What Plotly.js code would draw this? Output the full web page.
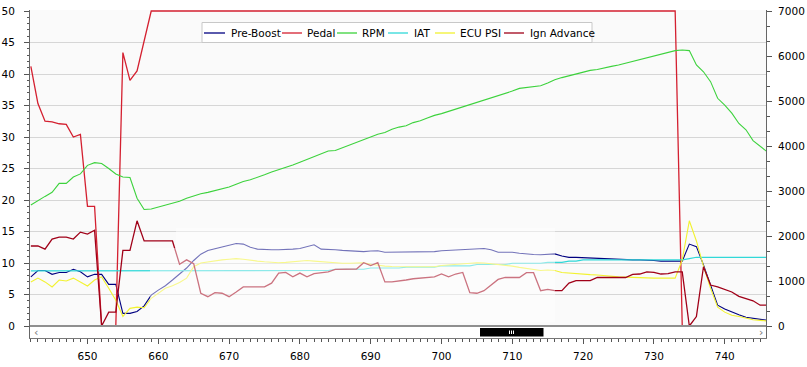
<!DOCTYPE html>
<html><head><meta charset="utf-8">
<script src="https://cdn.plot.ly/plotly-3.0.1.min.js"></script>
<style>html,body{margin:0;padding:0;background:#fff}#chart{width:807px;height:367px}</style>
</head><body><div id="chart"></div>
<script>
// ---- data ----
const frame = [642,643,644,645,646,647,648,649,650,651,652,653,654,655,656,657,658,659,660,661,662,663,664,665,666,667,668,669,670,671,672,673,674,675,676,677,678,679,680,681,682,683,684,685,686,687,688,689,690,691,692,693,694,695,696,697,698,699,700,701,702,703,704,705,706,707,708,709,710,711,712,713,714,715,716,717,718,719,720,721,722,723,724,725,726,727,728,729,730,731,732,733,734,735,736,737,738,739,740,741,742,743,744,745,746];

const preBoost = [7.8,8.8,8.8,8.2,8.5,8.5,9.0,8.6,7.8,8.2,8.2,6.6,6.6,2.0,2.0,2.3,3.2,4.9,5.7,6.4,7.3,8.3,9.2,10.4,11.4,12.0,12.3,12.6,12.9,13.1,13.0,12.5,12.2,12.1,12.1,12.1,12.1,12.2,12.3,12.6,12.9,12.2,12.2,12.1,12.0,11.95,11.8,11.8,11.9,11.95,11.7,11.7,11.7,11.7,11.7,11.7,11.7,11.8,11.95,12.0,12.05,12.1,12.15,12.2,12.3,12.1,11.7,11.7,11.7,11.55,11.4,11.35,11.3,11.4,11.45,11.1,10.9,10.9,10.85,10.7,10.65,10.6,10.6,10.6,10.55,10.5,10.5,10.5,10.4,10.3,10.3,10.3,10.3,13.0,12.6,9.7,6.4,3.3,2.7,2.2,1.8,1.4,1.2,1.0,0.9];

const pedal = [41.2,35.3,32.5,32.4,32.1,32.0,30.0,30.4,19.0,19.0,0,0,0,43.4,39.0,40.5,45.2,
50,50,50,50,50,50,50,50,50,50,50,50,50,50,50,
50,50,50,50,50,50,50,50,50,50,50,50,50,50,50,
50,50,50,50,50,50,50,50,50,50,50,50,50,50,50,
50,50,50,50,50,50,50,50,50,50,50,50,50,50,50,
50,50,50,50,50,50,50,50,50,50,50,50,50,50,50,
0,0,0,0,0,0,0,0,0,0,0,0,0];

const rpm = [2690,2790,2880,2970,3170,3170,3310,3380,3570,3630,3610,3500,3380,3310,3300,2840,2590,2600,2640,2680,2730,2770,2840,2890,2940,2970,3010,3050,3090,3150,3210,3250,3300,3360,3420,3470,3530,3580,3640,3700,3760,3830,3890,3900,3960,4020,4080,4140,4200,4260,4300,4370,4420,4450,4520,4560,4620,4680,4720,4770,4820,4870,4920,4960,5010,5060,5110,5160,5220,5280,5300,5310,5340,5400,5470,5520,5560,5600,5650,5680,5700,5740,5770,5800,5840,5880,5920,5960,6000,6040,6080,6120,6133,6120,5800,5650,5430,5060,4910,4730,4500,4360,4120,3985,3870];

const iat = [8.75,8.75,8.75,8.75,8.75,8.75,8.75,8.75,8.75,8.75,8.75,8.75,8.75,8.75,8.75,8.75,8.75,8.75,8.75,8.75,8.75,8.75,8.75,8.75,8.75,8.75,8.75,8.75,
8.8,8.8,8.8,8.8,8.8,8.8,8.8,8.8,8.8,8.8,8.8,8.8,8.8,8.8,8.8,
9.0,9.0,9.0,9.0,9.0,9.2,9.2,9.2,9.2,9.2,9.35,9.35,9.35,9.35,9.35,9.55,9.55,9.55,9.55,9.55,9.75,9.75,9.75,9.75,9.75,9.95,9.95,9.95,9.95,9.95,10.1,10.1,10.1,10.3,10.3,
10.5,10.5,10.5,10.5,10.5,10.5,10.5,10.5,10.5,10.5,10.5,10.5,10.5,10.5,10.5,10.7,
10.9,10.9,10.9,10.9,10.9,10.9,10.9,10.9,10.9,10.9,10.9];

const ecuPsi = [7.0,7.6,7.0,6.2,7.3,7.15,7.6,7.0,6.35,7.3,7.8,6.0,4.1,1.5,2.8,3.0,2.9,4.4,5.2,6.0,6.4,6.9,7.6,9.4,10.0,10.2,10.4,10.5,10.6,10.7,10.6,10.4,10.3,10.2,10.1,10.05,10.1,10.2,10.3,10.4,10.3,10.2,10.1,10.0,9.95,9.95,10.0,10.05,9.8,9.6,9.5,9.45,9.4,9.4,9.4,9.4,9.4,9.4,9.6,9.7,9.85,9.95,10.0,10.05,10.0,9.9,9.7,9.6,9.5,9.3,9.1,8.9,8.8,8.9,8.8,8.5,8.4,8.25,8.2,8.15,8.1,8.0,7.8,7.8,7.75,7.7,7.6,7.6,7.6,7.6,7.6,7.6,10.5,16.7,13.5,9.5,6.0,3.0,2.2,1.7,1.5,1.2,1.0,0.9,0.8];

const ignAdvance = [12.7,12.7,12.2,13.8,14.1,14.1,13.8,14.9,14.6,15.2,0,2.2,2.2,12.0,12.0,16.7,13.5,13.5,13.5,13.5,13.5,9.8,10.5,9.9,5.2,4.65,5.3,5.2,4.65,5.4,6.2,6.2,6.2,6.2,6.8,8.4,8.5,7.8,8.4,7.8,8.3,8.5,8.6,9.0,9.05,9.05,9.05,10.05,9.6,10.05,7.0,7.0,7.1,7.3,7.5,7.6,7.8,7.8,8.25,7.8,8.25,8.5,5.3,5.2,5.6,6.5,7.4,7.7,7.7,7.7,8.46,8.46,5.6,5.8,5.6,5.6,6.8,7.2,7.2,7.2,7.7,7.7,7.7,7.7,7.7,8.2,8.25,8.6,8.5,8.25,8.3,8.6,8.6,0,1.5,9.4,6.5,6.2,5.8,5.4,4.7,4.4,4.0,3.3,3.3];

const seriesNames = ['Pre-Boost','Pedal','RPM','IAT','ECU PSI','Ign Advance'];
const seriesColors = ['#000080','#d42030','#3cd23c','#30d8d8','#f2f230','#a00018'];
const leftTicks = [0,5,10,15,20,25,30,35,40,45,50];
const rightTicks = [0,1000,2000,3000,4000,5000,6000,7000];
const xTicks = [650,660,670,680,690,700,710,720,730,740];

// ---- layout geometry ----
const W=807,H=367,L=30,R=41,T=10,B=29;
const pw=W-L-R, ph=H-T-B;
const px2x = p => (p-L)/pw;
const py2y = p => (H-B-p)/ph;

const yMinor=[]; for(let v=1; v<50; v++) if(v%5) yMinor.push(v);
const y2Minor=[]; for(let k=1; k<21; k++) if(k%3) y2Minor.push(k*1000/3);

const font = {family:'DejaVu Sans', size:10.5, color:'#000'};
const dataY = [preBoost, pedal, rpm, iat, ecuPsi, ignAdvance];
const traces = dataY.map((ys,i)=>({
  type:'scatter', mode:'lines', x:frame, y:ys, name:seriesNames[i],
  yaxis: i===2 ? 'y2' : 'y', showlegend:false,
  line:{color:seriesColors[i], width:(i===1||i===5)?1.3:1.1}
}));

const shapes = [];
const annotations = [];
// faint watermark-like fade in the lower middle of the plot
shapes.push({type:'rect', xref:'paper', yref:'paper', x0:px2x(150), x1:px2x(176), y0:py2y(322), y1:py2y(248),
  line:{width:0}, fillcolor:'rgba(255,255,255,0.45)', layer:'above'});
shapes.push({type:'rect', xref:'paper', yref:'paper', x0:px2x(176), x1:px2x(555), y0:py2y(322), y1:py2y(228),
  line:{width:0}, fillcolor:'rgba(255,255,255,0.45)', layer:'above'});
// zero line drawn over the series, as in the source chart
shapes.push({type:'line', xref:'paper', yref:'y', x0:0, x1:1, y0:0, y1:0,
  line:{color:'#8f8f8f', width:2}, layer:'above'});

// manual legend (pixel layout)
const legendItems = [
  {l0:204, l1:225, tx:229},
  {l0:282, l1:302, tx:305},
  {l0:337, l1:357, tx:360},
  {l0:388, l1:408, tx:412},
  {l0:435, l1:455, tx:458},
  {l0:504, l1:524, tx:528}
];
shapes.push({type:'rect', xref:'paper', yref:'paper', x0:px2x(202), x1:px2x(592), y0:py2y(42.5), y1:py2y(22.5),
  line:{color:'#c8c8c8', width:1}, fillcolor:'#ffffff', layer:'above'});
legendItems.forEach((it,i)=>{
  shapes.push({type:'line', xref:'paper', yref:'paper', x0:px2x(it.l0), x1:px2x(it.l1), y0:py2y(33), y1:py2y(33),
    line:{color:seriesColors[i], width:1.3}, layer:'above'});
  annotations.push({xref:'paper', yref:'paper', x:px2x(it.tx), y:py2y(33), xanchor:'left', yanchor:'middle',
    text:seriesNames[i], showarrow:false, font:{family:'DejaVu Sans', size:10.5, color:'#000'}});
});
// scrollbar strip
shapes.push({type:'rect', xref:'paper', yref:'paper', x0:0, x1:1, y0:0, y1:py2y(326.5),
  line:{width:0}, fillcolor:'#ffffff', layer:'below'});
shapes.push({type:'rect', xref:'paper', yref:'paper', x0:px2x(480), x1:px2x(543.5), y0:py2y(336.5), y1:py2y(328),
  line:{width:0}, fillcolor:'#000000', layer:'above'});
[509.5,511.5,513.5].forEach(p=>{
  shapes.push({type:'line', xref:'paper', yref:'paper', x0:px2x(p), x1:px2x(p), y0:py2y(334), y1:py2y(330.5),
    line:{color:'#ffffff', width:1}, layer:'above'});
});
annotations.push({xref:'paper', yref:'paper', x:px2x(36), y:py2y(332), xanchor:'center', yanchor:'middle',
  text:'‹', showarrow:false, font:{family:'DejaVu Sans', size:11, color:'#777'}});
annotations.push({xref:'paper', yref:'paper', x:px2x(761), y:py2y(332), xanchor:'center', yanchor:'middle',
  text:'›', showarrow:false, font:{family:'DejaVu Sans', size:11, color:'#777'}});

const layout = {
  width:W, height:H, margin:{l:L, r:R, t:T, b:B, pad:0},
  paper_bgcolor:'#ffffff', plot_bgcolor:'#fafafa',
  font:font, showlegend:false,
  xaxis:{range:[641.88,745.83], tickvals:xTicks, ticks:'outside', ticklen:5, tickcolor:'#555',
    showline:true, linecolor:'#777', linewidth:1, showgrid:false, zeroline:false,
    tickfont:font, ticklabelstandoff:3,
    minor:{dtick:1, tick0:0, ticks:'outside', ticklen:2.5, tickcolor:'#555', showgrid:false}},
  yaxis:{range:[-1.905,50.159], tickvals:leftTicks, ticks:'outside', ticklen:5, tickcolor:'#555',
    showline:true, linecolor:'#666', linewidth:1, showgrid:true, gridcolor:'#d6d6d6', gridwidth:1,
    zeroline:true, zerolinecolor:'#8a8a8a', zerolinewidth:1, tickfont:font, ticklabelstandoff:7,
    minor:{tickvals:yMinor, ticks:'outside', ticklen:2.5, tickcolor:'#555', showgrid:false}},
  yaxis2:{range:[-266.7,7022.2], overlaying:'y', side:'right', tickvals:rightTicks, ticks:'outside', ticklen:5,
    tickcolor:'#555', showline:true, linecolor:'#666', linewidth:1, showgrid:false, zeroline:false,
    tickfont:font, ticklabelstandoff:4,
    minor:{tickvals:y2Minor, ticks:'outside', ticklen:2.5, tickcolor:'#555', showgrid:false}},
  shapes:shapes, annotations:annotations
};
Plotly.newPlot('chart', traces, layout, {staticPlot:true, displayModeBar:false});
</script></body></html>
